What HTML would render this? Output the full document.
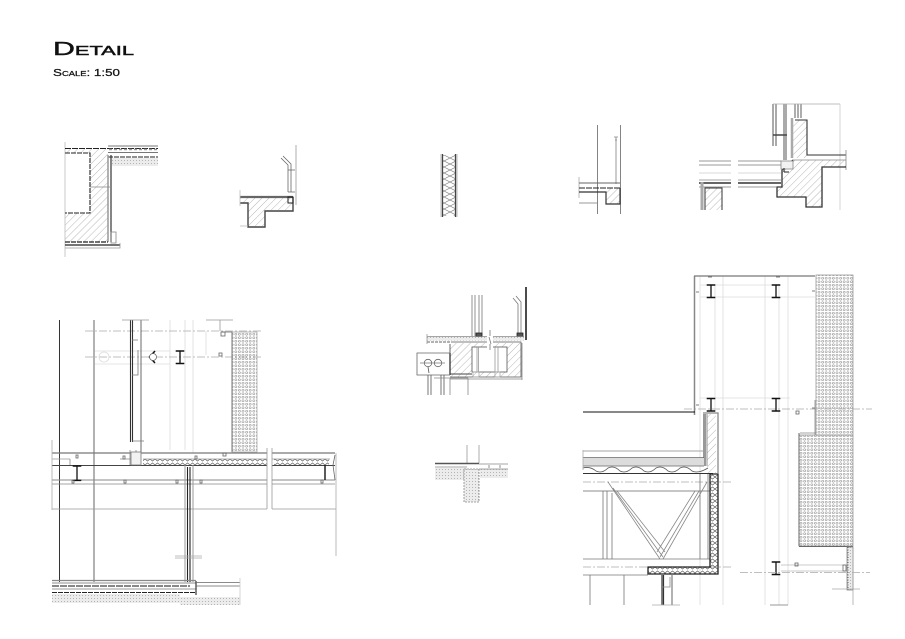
<!DOCTYPE html>
<html><head><meta charset="utf-8"><title>Detail</title>
<style>html,body{margin:0;padding:0;background:#fff;width:905px;height:639px;overflow:hidden}svg{display:block}text{font-family:"Liberation Sans",sans-serif;font-variant:small-caps;fill:#111;stroke:#111}</style></head>
<body>
<svg width="905" height="639" viewBox="0 0 905 639" xmlns="http://www.w3.org/2000/svg">
<defs>
<pattern id="h" width="5" height="5" patternUnits="userSpaceOnUse" patternTransform="rotate(-45)"><line x1="0" y1="0" x2="5" y2="0" stroke="#999" stroke-width=".7"/></pattern>
<pattern id="p" width="3.600" height="3.500" patternUnits="userSpaceOnUse"><circle cx="1.800" cy="1.750" r="1" fill="none" stroke="#8a8a8a" stroke-width=".6"/></pattern>
<pattern id="s" width="3" height="3" patternUnits="userSpaceOnUse"><rect width="3" height="3" fill="#ececec"/><rect x="1" y="1" width="1" height="1" fill="#b5b5b5"/></pattern>
<pattern id="z" width="5" height="6" patternUnits="userSpaceOnUse"><path d="M0 3 2.500 1 5 3M0 3 2.500 5 5 3" fill="none" stroke="#666" stroke-width=".7"/></pattern>
<pattern id="ins" width="12" height="12" patternUnits="userSpaceOnUse" x="444" y="155"><path d="M0 0 12 6 0 12M12 0 0 6 12 12" fill="none" stroke="#888" stroke-width=".7"/></pattern>
<g id="ib"><path d="M-4.300 0H4.300M-4.300 12.500H4.300" stroke="#111" stroke-width="1.400" fill="none"/><path d="M0 0V12.500" stroke="#111" stroke-width="1.300"/></g>
</defs>
<rect width="905" height="639" fill="#fff"/>
<text x="53" y="55" font-size="18" stroke-width=".45" textLength="81" lengthAdjust="spacingAndGlyphs">Detail</text>
<text x="53" y="76" font-size="10" stroke-width=".25" textLength="67" lengthAdjust="spacingAndGlyphs">Scale: 1:50</text>

<g fill="none" stroke="#666" stroke-width=".8">
<!-- detail 1 -->
<path d="M65 149H108V242H65V213H90V153H65Z" fill="url(#h)" stroke="none"/>
<path d="M65 142V257" stroke="#bbb"/>
<path d="M65 148.500H158" stroke="#222" stroke-width="1" stroke-dasharray="6 1"/>
<path d="M65 153H90V213H65M108 157H158" stroke="#222" stroke-width="1.100" stroke-dasharray="5 1"/>
<path d="M108 146H158M108 152.500H158" stroke="#777" stroke-width="1.100"/>
<path d="M109 149.500H158" stroke="#999" stroke-width="1.600" stroke-dasharray="3 2"/>
<rect x="112" y="158" width="46" height="8" fill="url(#s)" stroke="none"/>
<path d="M108 155V242" stroke="#999" stroke-width="1.500"/>
<path d="M111 155V242" stroke="#333" stroke-width="1.200"/>
<path d="M90 187H112" stroke="#888"/>
<path d="M65 242H108" stroke="#222" stroke-width="1.200" stroke-dasharray="5 1"/>
<path d="M65 245H120" stroke="#222" stroke-width="1.200"/>
<path d="M65 248H120V243" stroke="#999"/>
<rect x="111" y="232" width="5" height="11" stroke="#888"/>
<!-- detail 2 -->
<path d="M240 198H292V210H265V226H248V203H240Z" fill="url(#h)" stroke="none"/>
<path d="M240 197H293" stroke="#666" stroke-width="2.200"/>
<path d="M240 203H248V227H265V211H293V197" stroke="#444" stroke-width="1.400"/>
<path d="M240 226H248M240 190V206" stroke="#bbb"/>
<path d="M296 145V205" stroke="#999"/>
<path d="M281 158 288 165V192M283 156 291 164V192M288 170H295M288 192H295" stroke="#666"/>
<rect x="288" y="197" width="5" height="6" stroke="#222" stroke-width="1"/>
<!-- detail 3 -->
<rect x="443" y="155" width="13" height="61" fill="url(#ins)" stroke="none"/>
<path d="M442.500 154V217M455.500 154V217" stroke="#444" stroke-width="1.300"/>
<path d="M441 154V217M457 154V217" stroke="#aaa"/>
<!-- detail 4 -->
<path d="M606 188H620V204H606Z" fill="url(#h)" stroke="none"/>
<path d="M597.500 125V214M620.500 125V214" stroke="#666"/>
<path d="M616 137V184" stroke="#aaa" stroke-width="1.200"/>
<path d="M614 137H618M615 140H617" stroke="#888"/>
<path d="M579 177V198" stroke="#aaa"/>
<path d="M579 183H620" stroke="#666" stroke-width="1"/>
<path d="M579 188H620" stroke="#222" stroke-width="1.100" stroke-dasharray="6 1"/>
<path d="M579 192H606V204H620V188" stroke="#333" stroke-width="1.200"/>
<path d="M579 203H597" stroke="#777"/>
<!-- detail 5 -->
<path d="M793 160H846V167H822V207H806V197H777V187H782V170Z" fill="url(#h)" stroke="none"/>
<rect x="793" y="120" width="14" height="38" fill="url(#h)" stroke="none"/>
<path d="M773 104V146M776 104V146" stroke="#555" stroke-width="1"/>
<path d="M784 104V160M786 104V160" stroke="#555" stroke-width="1"/>
<path d="M795 104V118M798 104V118M801 104V118" stroke="#333"/>
<path d="M773 104H840" stroke="#aaa"/>
<path d="M840 104V210" stroke="#ccc"/>
<path d="M773 135H787" stroke="#444" stroke-width="1.500"/>
<path d="M792 118V158" stroke="#aaa" stroke-width="2.500"/>
<path d="M795 120H807V155H846" stroke="#333" stroke-width="1.100"/>
<path d="M846 150V170M846 160H793" stroke="#888"/>
<path d="M846 167H822V207H806V197H777V187H782V170L793 160" stroke="#333" stroke-width="1.300"/>
<rect x="781" y="161" width="12" height="8" fill="#f2f2f2" stroke="#888"/>
<path d="M784 168V172M784 172H789" stroke="#222" stroke-width="1"/>
<path d="M699 161H731M738 161H781M699 165H731M738 165H781" stroke="#777"/>
<path d="M699 173H731M738 173H781" stroke="#ccc"/>
<path d="M699 180H731M738 180H781" stroke="#888"/>
<path d="M699 183H731M738 183H781" stroke="#333" stroke-width="1.500"/>
<path d="M699 187H731M738 187H777" stroke="#777"/>
<rect x="705" y="188" width="17" height="22" fill="url(#h)" stroke="none"/>
<path d="M705 210V188H722V210" stroke="#333" stroke-width="1"/>
<path d="M702 182V210" stroke="#aaa" stroke-width="3"/>

<!-- detail 6 -->
<g stroke="#ddd"><path d="M170 320V450M185 320V450M193 320V453M95 351H170V364H95M206 331V355"/></g>
<path d="M85 331H263M85 357H263" stroke="#aaa" stroke-dasharray="8 2 2 2" stroke-width=".7"/>
<circle cx="104" cy="357" r="5" stroke="#ddd"/>
<path d="M59.500 320V582" stroke="#333" stroke-width="1"/>
<path d="M94 320V582" stroke="#888" stroke-width="1.300"/>
<path d="M130.500 320V442M132.500 320V442" stroke="#333" stroke-width="1.100"/>
<path d="M141 320V452" stroke="#444"/>
<path d="M122 320H149M206 320H233M220 320V331" stroke="#999"/>
<path d="M132 340H138M132 375H138V350M132 441H144" stroke="#777"/>
<path d="M155 351 149.500 357 155 363" stroke="#111" stroke-width="1.500"/>
<circle cx="153" cy="357" r="3.500" stroke="#666" fill="#fff"/>
<use href="#ib" transform="translate(180 351)"/>
<rect x="232" y="332" width="25" height="120" fill="url(#p)" stroke="#aaa"/>
<path d="M232 332V452M222 332H232" stroke="#666"/>
<rect x="219" y="353" width="3" height="3" stroke="#666"/>
<rect x="221" y="332" width="4" height="4" stroke="#666"/>
<path d="M52 453H267M272 453H335" stroke="#777" stroke-width="1.200"/>
<path d="M52 459H70M143 459H267M272 459H330" stroke="#999"/>
<rect x="143" y="459" width="124" height="6" fill="url(#z)" stroke="none"/>
<rect x="274" y="459" width="55" height="6" fill="url(#z)" stroke="none"/>
<path d="M52 465.500H267M272 465.500H335" stroke="#444" stroke-width="1"/>
<path d="M52 480H267M272 480H335" stroke="#888" stroke-width="1"/>
<path d="M52 484H267M272 484H335" stroke="#888"/>
<path d="M267 448V509M272 448V509M52 509H267M272 509H336" stroke="#999"/>
<path d="M52 440V510" stroke="#aaa"/>
<path d="M336 453V556" stroke="#aaa"/>
<path d="M70 459V465M130 450V465M136 450V465M120 459H135" stroke="#888"/>
<rect x="131" y="452" width="10" height="13" fill="#f2f2f2" stroke="#777"/>
<use href="#ib" transform="translate(77 466) scale(1 1.150)"/>
<path d="M325 465V480" stroke="#222" stroke-width="1.500"/>
<path d="M335 455 333 465 335 480" stroke="#666"/>
<g stroke="#666"><rect x="76" y="455" width="2" height="3"/><rect x="123" y="456" width="2" height="3"/><rect x="195" y="456" width="2" height="3"/><rect x="223" y="453" width="3" height="3"/><rect x="72" y="480" width="2" height="3"/><rect x="124" y="480" width="2" height="3"/><rect x="176" y="480" width="2" height="3"/><rect x="200" y="480" width="2" height="3"/><rect x="321" y="480" width="2" height="3"/></g>
<path d="M185 465V582M193 465V582" stroke="#999" stroke-width="1"/>
<path d="M187.500 467V582M190 467V582" stroke="#222" stroke-width="1.100"/>
<path d="M175 556H202M175 558H202" stroke="#aaa" stroke-width=".7"/>
<path d="M52 580.500H196" stroke="#888" stroke-width="1.300"/>
<path d="M52 583H196" stroke="#666"/>
<path d="M52 586H190" stroke="#777" stroke-width="1.800" stroke-dasharray="7 1"/>
<path d="M52 589H196" stroke="#777"/>
<path d="M52 592.500H196" stroke="#222" stroke-width="1.100" stroke-dasharray="5 1"/>
<rect x="52" y="594" width="128" height="9" fill="url(#s)" stroke="none"/>
<rect x="180" y="597" width="60" height="8" fill="url(#s)" stroke="none"/>
<path d="M196 581V595" stroke="#444" stroke-width="1.300"/>
<path d="M196 582.500H240M196 586H240" stroke="#666"/>
<path d="M240 578V605" stroke="#ccc"/>

<!-- detail 7 -->
<rect x="450" y="343" width="72" height="34" fill="url(#h)" stroke="none"/>
<rect x="472" y="347" width="35" height="25" fill="#fff" stroke="#555"/>
<path d="M526 287V340" stroke="#111" stroke-width="1.500"/>
<path d="M472 295V336M475 295V336M479 295V336M482 295V336" stroke="#777"/>
<path d="M513 298 518 304V333M516 296 521 302V333" stroke="#777"/>
<rect x="476" y="333" width="6" height="4" stroke="#222" fill="#555"/>
<rect x="517" y="333" width="6" height="6" stroke="#222" fill="#555"/>
<rect x="427" y="337" width="97" height="3.500" fill="url(#s)" stroke="none"/>
<path d="M427 336.500H524" stroke="#888"/>
<path d="M427 342H451" stroke="#333" stroke-dasharray="3 1"/>
<path d="M427 334V344" stroke="#999"/>
<path d="M451 342H521V377H450" stroke="#555"/>
<path d="M450 344V353" stroke="#444"/>
<path d="M450 353V375" stroke="#222" stroke-width="1.200"/>
<path d="M450 374H472" stroke="#444" stroke-width="1"/>
<path d="M450 379H522M522 343V380" stroke="#888"/>
<path d="M477 347V372M478.500 347V372M495 347V372M498 347V372" stroke="#999"/>
<rect x="473" y="372" width="6" height="5" stroke="#aaa"/>
<rect x="495" y="372" width="5" height="5" stroke="#aaa"/>
<rect x="487" y="330" width="6" height="20" fill="#fff" stroke="none"/>
<path d="M490 330V336M489 337 491 344M490 344V350" stroke="#777"/>
<path d="M450 353H417V375H450" stroke="#666"/>
<circle cx="428" cy="363" r="3.700"/><circle cx="438" cy="363" r="3.700"/>
<path d="M420 363H445" stroke="#777"/>
<path d="M428 367 429 373" stroke="#555"/>
<path d="M428 375V395M431 375V395M441 375V395M444 375V395" stroke="#555"/>
<path d="M450 378V395M468 378V395M434 378H468" stroke="#888"/>
<!-- detail 8 -->
<path d="M467 445V463M479 445V463" stroke="#999"/>
<rect x="435" y="468" width="32" height="12" fill="url(#s)" stroke="none"/>
<rect x="480" y="469" width="28" height="9" fill="url(#s)" stroke="none"/>
<rect x="464" y="469" width="15" height="33" fill="url(#s)" stroke="#888" stroke-dasharray="2 1"/>
<path d="M435 463.500H479" stroke="#555" stroke-width="1.400"/>
<path d="M479 464H508M479 469H508M435 467H467" stroke="#888"/>
<path d="M489 465V468M500 465V468" stroke="#777"/>

<!-- detail 9 -->
<g stroke="#ddd"><path d="M700 276V605M715 285V411M723 276V605M765 276V605M779 285V605M788 276V605M700 285H780M700 297H815M700 398H790"/></g>
<path d="M684 409H872" stroke="#aaa" stroke-dasharray="8 2 2 2" stroke-width=".7"/>
<path d="M694.500 276V415" stroke="#888" stroke-width="1.500"/>
<path d="M694 276H815" stroke="#777" stroke-width="1.300"/>
<use href="#ib" transform="translate(711 285)"/><use href="#ib" transform="translate(776 285)"/>
<use href="#ib" transform="translate(711 398.500)"/><use href="#ib" transform="translate(776 398.500)"/>
<path d="M708 277H712M776 277H780M696 292H699M696 405H699M812 291H815M812 408H815" stroke="#555"/>
<rect x="816" y="275" width="37" height="160" fill="url(#p)" stroke="#999"/>
<path d="M583 412H695" stroke="#111" stroke-width="1"/>
<path d="M815 400V435M800 433H816" stroke="#888"/>
<rect x="796" y="411" width="3" height="3" stroke="#666"/>
<rect x="799" y="435" width="54" height="111" fill="url(#p)" stroke="#999"/>
<path d="M799 433V546M799 546.500H853" stroke="#666" stroke-width="1"/>
<rect x="847" y="547" width="6" height="43" fill="url(#s)" stroke="#888"/>
<path d="M848 547V590" stroke="#444" stroke-dasharray="1 1.500"/>
<path d="M832 589H860M853 590V605" stroke="#aaa"/>
<path d="M770 605H788" stroke="#777"/>
<use href="#ib" transform="translate(776 562)"/>
<path d="M781 565H845M781 571H845" stroke="#bbb"/>
<path d="M740 572.500H870" stroke="#aaa" stroke-dasharray="8 2 2 2" stroke-width=".7"/>
<rect x="795" y="563" width="3" height="3" stroke="#666"/>
<rect x="843" y="565" width="3" height="6" stroke="#666"/>
<!-- roof / truss -->
<rect x="707" y="414" width="9" height="59" fill="url(#h)" stroke="none"/>
<path d="M704.500 414V466" stroke="#999" stroke-width="3"/>
<path d="M703 413H718V473" stroke="#888" stroke-width="1.300"/>
<path d="M707 414V466" stroke="#777"/>
<path d="M583 451H703" stroke="#888"/>
<rect x="583" y="458" width="121" height="8" fill="#dcdcdc" stroke="none"/>
<path d="M583 457.500H704M583 466H704" stroke="#666"/>
<path d="M583 468Q590 466 596 471Q602 474 608 468Q614 465 620 471Q626 474 632 468Q638 465 644 471Q650 474 656 468Q662 465 668 471Q674 474 680 468Q686 465 692 471Q698 474 708 468" stroke="#555"/>
<path d="M583 473.500H713" stroke="#333" stroke-width="1"/>
<path d="M583 491H710" stroke="#666"/>
<path d="M583 482H733" stroke="#aaa" stroke-dasharray="8 2 2 2" stroke-width=".7"/>
<path d="M603 491V559M607 491V559M612 493V559M700 474V559M708 474V559" stroke="#777"/>
<path d="M608 482 660 559M613 488 663 557M617 491 665 552" stroke="#888"/>
<path d="M707 482 663 559M699 491 660 557M695 491 657 552" stroke="#888"/>
<path d="M583 559H710M583 575H648" stroke="#777"/>
<path d="M583 567H733" stroke="#aaa" stroke-dasharray="8 2 2 2" stroke-width=".7"/>
<path d="M583 450V470" stroke="#aaa"/>
<path d="M710 474H718V574H648V567H710Z" fill="url(#z)" stroke="#222" stroke-width="1.300"/>
<path d="M590 575V605M624 575V605" stroke="#777"/>
<path d="M662 575V605M663.500 575V605" stroke="#333" stroke-width="1.200"/>
<path d="M672 575V605" stroke="#666" stroke-width="1"/>
<path d="M662 587H670V577" stroke="#888"/>
<path d="M652 605H680" stroke="#aaa"/>
</g>
</svg>
</body></html>
